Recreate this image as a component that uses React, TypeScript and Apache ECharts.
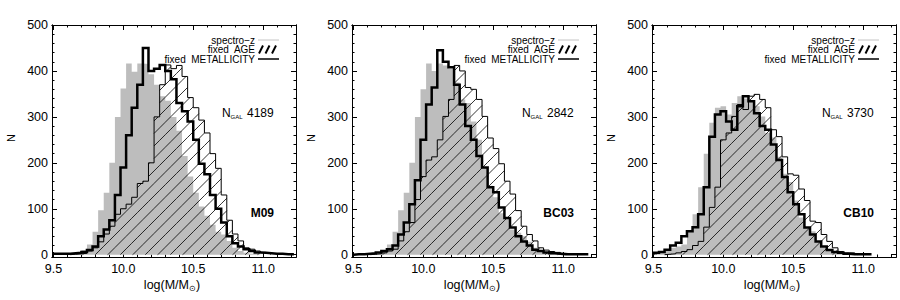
import React, { useEffect, useRef } from "react";
import * as echarts from "echarts";

// ---------- data ----------
const BIN_LEFT = [
  9.5, 9.54, 9.58, 9.62, 9.66, 9.7, 9.74, 9.78, 9.82, 9.86, 9.9, 9.94, 9.98,
  10.02, 10.06, 10.1, 10.14, 10.18, 10.22, 10.26, 10.3, 10.34, 10.38, 10.42,
  10.46, 10.5, 10.54, 10.58, 10.62, 10.66, 10.7, 10.74, 10.78, 10.82, 10.86,
  10.9, 10.94, 10.98, 11.02, 11.06, 11.1, 11.14, 11.18,
];
const BIN_WIDTH = 0.04;
const _ = null;

// M09
const m09Spectro = [_, _, _, _, 2, 10, 22, 50, 97, 135, 200, 300, 362, 416, 398, 416, 415, 393, 370, 345, 335, 300, 270, 215, 170, 135, 105, 85, 65, 50, 44, 30, 15, 8, 4, 2, 1, _, _, _, _, _, _];
const m09Age = [_, _, _, 1, 2, 3, 8, 15, 28, 45, 62, 88, 100, 110, 125, 155, 160, 200, 300, 370, 413, 405, 412, 388, 342, 320, 293, 265, 220, 188, 130, 75, 45, 30, 15, 12, 8, 5, 3, 2, 1, 1, _];
const m09Metal = [2, 2, 2, 3, 4, 6, 10, 18, 40, 55, 75, 130, 190, 260, 320, 370, 450, 400, 405, 413, 400, 382, 330, 312, 290, 250, 198, 175, 130, 100, 70, 40, 25, 18, 12, 8, 5, 4, 3, 2, 2, 1, 1];

// BC03
const bc03Spectro = [_, _, _, _, 2, 10, 22, 50, 97, 135, 200, 300, 360, 416, 400, 416, 412, 405, 375, 338, 330, 290, 250, 190, 150, 125, 90, 80, 55, 48, 40, 28, 15, 8, 4, 2, 1, _, _, _, _, _, _];
const bc03Age = [_, _, _, 1, 2, 4, 8, 12, 30, 50, 70, 120, 170, 206, 213, 250, 301, 338, 412, 400, 364, 360, 338, 301, 254, 231, 198, 160, 132, 96, 62, 44, 30, 15, 10, 7, 5, 3, 2, 1, 1, _, _];
const bc03Metal = [1, 1, 2, 3, 5, 8, 12, 20, 44, 70, 110, 162, 250, 327, 364, 445, 420, 408, 370, 327, 280, 250, 215, 190, 147, 136, 103, 80, 59, 40, 29, 20, 11, 8, 5, 3, 2, 1, 1, 1, 1, 1, _];

// CB10
const cb10Spectro = [2, 5, 10, 15, 18, 22, 51, 88, 147, 220, 287, 320, 323, 305, 330, 345, 340, 335, 323, 301, 265, 255, 213, 176, 158, 118, 81, 59, 51, 29, 15, 10, 6, 4, 2, 1, _, _, _, _, _, _, _];
const cb10Age = [_, _, 1, 2, 4, 7, 11, 20, 29, 60, 103, 147, 250, 265, 301, 327, 316, 345, 349, 338, 320, 272, 257, 213, 176, 173, 143, 118, 73, 70, 44, 29, 15, 7, 4, 4, 2, 1, _, _, _, _, _];
const cb10Metal = [4, 6, 11, 20, 26, 40, 51, 60, 88, 147, 257, 305, 312, 290, 272, 323, 345, 334, 308, 280, 272, 240, 206, 169, 136, 110, 88, 59, 44, 29, 18, 10, 6, 4, 2, 1, 1, 1, 1, _, _, _, _];

const PANEL_NAMES = ["M09", "BC03", "CB10"];
const N_GAL = ["4189", "2842", "3730"];
const SPECTRO = [m09Spectro, bc03Spectro, cb10Spectro];
const AGE = [m09Age, bc03Age, cb10Age];
const METAL = [m09Metal, bc03Metal, cb10Metal];

const X_TICKS = [9.5, 10.0, 10.5, 11.0];
const Y_TICKS = [0, 100, 200, 300, 400, 500];
const LEGEND_LABELS = ["spectro\u2212z", "fixed  AGE", "fixed  METALLICITY"];

// ---------- layout / style ----------
const X_MIN = 9.49;
const X_MAX = 11.235;
const Y_MIN = -5;
const Y_MAX = 500;
const FONT = '"Liberation Sans", Arial, Helvetica, sans-serif';
const GRAY = "#bdbdbd";
const HATCH = 12.5;

function minorList(lo: number, hi: number, step: number) {
  const out: number[] = [];
  for (let v = lo; v <= hi + 1e-9; v += step) out.push(Math.round(v * 1000) / 1000);
  return out;
}
const X_MINOR = minorList(9.5, 11.2, 0.1);
const Y_MINOR = minorList(0, 500, 20);

function stepPoints(vals: (number | null)[]) {
  let first = -1;
  let last = -1;
  vals.forEach((v, i) => {
    if (v != null) {
      if (first < 0) first = i;
      last = i;
    }
  });
  const pts: number[][] = [[BIN_LEFT[first], 0]];
  for (let i = first; i <= last; i++) pts.push([BIN_LEFT[i], (vals[i] as number) ?? 0]);
  const end = BIN_LEFT[last] + BIN_WIDTH;
  pts.push([end, vals[last] as number]);
  pts.push([end, 0]);
  return pts;
}

function hatchItems(vals: (number | null)[]) {
  const out: number[][] = [];
  vals.forEach((v, i) => {
    if (v != null && v > 0) out.push([BIN_LEFT[i], BIN_LEFT[i] + BIN_WIDTH, v]);
  });
  return out;
}

function measure(text: string, size: number) {
  const c = document.createElement("canvas").getContext("2d");
  if (!c) return text.length * size * 0.55;
  c.font = `${size}px ${FONT}`;
  return c.measureText(text).width;
}

export default function App() {
  const ref = useRef<HTMLDivElement>(null);

  useEffect(() => {
    if (!ref.current) return;
    const chart = echarts.init(ref.current, undefined, { renderer: "svg" });

    const grids: any[] = [];
    const xAxes: any[] = [];
    const yAxes: any[] = [];
    const series: any[] = [];
    const graphics: any[] = [];

    const tickStyle = { color: "#000", width: 1 };
    const lineAx = { show: true, onZero: false, lineStyle: { color: "#000", width: 1 } };

    for (let g = 0; g < 3; g++) {
      const ox = 300 * g;
      grids.push({ left: 52 + ox, top: 25, width: 244, height: 232, outerBoundsMode: "none" });

      const xb = (pos: string, ticks: number[], len: number, labels: boolean) => ({
        type: "value",
        gridIndex: g,
        min: X_MIN,
        max: X_MAX,
        position: pos,
        axisLine: lineAx,
        axisTick: { show: true, inside: true, length: len, customValues: ticks, lineStyle: tickStyle },
        axisLabel: labels
          ? {
              show: true,
              customValues: X_TICKS,
              formatter: (v: number) => v.toFixed(1),
              margin: 5,
              color: "#000",
              fontSize: 12.5,
              fontFamily: FONT,
            }
          : { show: false },
        splitLine: { show: false },
      });
      xAxes.push(xb("bottom", X_TICKS, 5, true));
      xAxes.push(xb("top", X_TICKS, 5, false));
      xAxes.push(xb("bottom", X_MINOR, 2.5, false));
      xAxes.push(xb("top", X_MINOR, 2.5, false));

      const yb = (pos: string, ticks: number[], len: number, labels: boolean) => ({
        type: "value",
        gridIndex: g,
        min: Y_MIN,
        max: Y_MAX,
        position: pos,
        axisLine: lineAx,
        axisTick: { show: true, inside: true, length: len, customValues: ticks, lineStyle: tickStyle },
        axisLabel: labels
          ? { show: true, customValues: Y_TICKS, margin: 4, color: "#000", fontSize: 12.5, fontFamily: FONT }
          : { show: false },
        splitLine: { show: false },
      });
      yAxes.push(yb("left", Y_TICKS, 5, true));
      yAxes.push(yb("right", Y_TICKS, 5, false));
      yAxes.push(yb("left", Y_MINOR, 2.5, false));
      yAxes.push(yb("right", Y_MINOR, 2.5, false));

      const xi = 4 * g;
      const yi = 4 * g;

      series.push({
        type: "line",
        name: "spectro-z",
        xAxisIndex: xi,
        yAxisIndex: yi,
        step: "end",
        data: stepPoints(SPECTRO[g]),
        symbol: "none",
        lineStyle: { width: 0, color: GRAY },
        areaStyle: { color: GRAY, opacity: 1 },
        z: 1,
        silent: true,
      });
      series.push({
        type: "custom",
        name: "fixed AGE hatch",
        xAxisIndex: xi,
        yAxisIndex: yi,
        data: hatchItems(AGE[g]),
        encode: { x: [0, 1], y: 2 },
        z: 2,
        silent: true,
        renderItem: (_p: any, api: any) => {
          const x0 = api.value(0);
          const x1 = api.value(1);
          const v = api.value(2);
          const pA = api.coord([x0, 0]);
          const pB = api.coord([x1, v]);
          const a = pA[0];
          const b = pB[0];
          const B = pA[1];
          const t = pB[1];
          const children: any[] = [];
          const n0 = Math.ceil((a + t) / HATCH);
          const n1 = Math.floor((b + B) / HATCH);
          for (let n = n0; n <= n1; n++) {
            const c = n * HATCH;
            const xs = Math.max(a, c - B);
            const xe = Math.min(b, c - t);
            if (xe > xs) {
              children.push({
                type: "line",
                shape: { x1: xs, y1: c - xs, x2: xe, y2: c - xe },
                style: { stroke: "#000", lineWidth: 0.8 },
              });
            }
          }
          return { type: "group", children };
        },
      });
      series.push({
        type: "line",
        name: "fixed AGE",
        xAxisIndex: xi,
        yAxisIndex: yi,
        step: "end",
        data: stepPoints(AGE[g]),
        symbol: "none",
        lineStyle: { width: 1, color: "#000" },
        z: 3,
        silent: true,
      });
      series.push({
        type: "line",
        name: "fixed METALLICITY",
        xAxisIndex: xi,
        yAxisIndex: yi,
        step: "end",
        data: stepPoints(METAL[g]),
        symbol: "none",
        lineStyle: { width: 2.5, color: "#000", join: "miter" },
        z: 4,
        silent: true,
      });

      // legend
      const legY = [40, 49.5, 59];
      LEGEND_LABELS.forEach((lab, i) => {
        graphics.push({
          type: "text",
          x: ox + 255,
          y: legY[i],
          silent: true,
          style: { text: lab, fontSize: 10, fontFamily: FONT, fill: "#000", align: "right", verticalAlign: "middle" },
        });
      });
      graphics.push({
        type: "line",
        silent: true,
        shape: { x1: ox + 258, y1: legY[0], x2: ox + 279, y2: legY[0] },
        style: { stroke: "#c4c4c4", lineWidth: 1 },
      });
      [259, 265.5, 272].forEach((sx) => {
        graphics.push({
          type: "line",
          silent: true,
          shape: { x1: ox + sx, y1: legY[1] + 4, x2: ox + sx + 4, y2: legY[1] - 4 },
          style: { stroke: "#000", lineWidth: 2 },
        });
      });
      graphics.push({
        type: "line",
        silent: true,
        shape: { x1: ox + 258, y1: legY[2], x2: ox + 279, y2: legY[2] },
        style: { stroke: "#000", lineWidth: 1.5 },
      });

      // N_GAL
      graphics.push({
        type: "text",
        x: ox + 222,
        y: 113,
        silent: true,
        style: { text: "N", fontSize: 12, fontFamily: FONT, fill: "#000", align: "left", verticalAlign: "middle" },
      });
      graphics.push({
        type: "text",
        x: ox + 230.5,
        y: 116.5,
        silent: true,
        style: { text: "GAL", fontSize: 6, fontFamily: FONT, fill: "#000", align: "left", verticalAlign: "middle" },
      });
      graphics.push({
        type: "text",
        x: ox + 247,
        y: 113,
        silent: true,
        style: { text: N_GAL[g], fontSize: 12, fontFamily: FONT, fill: "#000", align: "left", verticalAlign: "middle" },
      });

      // model name
      graphics.push({
        type: "text",
        x: ox + 274,
        y: 213,
        silent: true,
        style: {
          text: PANEL_NAMES[g],
          fontSize: 12,
          fontWeight: "bold",
          fontFamily: FONT,
          fill: "#000",
          align: "right",
          verticalAlign: "middle",
        },
      });

      // y title
      graphics.push({
        type: "text",
        x: ox + 11,
        y: 138,
        rotation: Math.PI / 2,
        silent: true,
        style: { text: "N", fontSize: 11, fontFamily: FONT, fill: "#000", align: "center", verticalAlign: "middle" },
      });

      // x title: log(M/M⊙)
      const t1 = "log(M/M";
      const t2 = "\u2299";
      const t3 = ")";
      const w1 = measure(t1, 12.5);
      const w2 = measure(t2, 8);
      const w3 = measure(t3, 12.5);
      const sx = ox + 172 - (w1 + w2 + w3) / 2;
      graphics.push({
        type: "text",
        x: sx,
        y: 285,
        silent: true,
        style: { text: t1, fontSize: 12.5, fontFamily: FONT, fill: "#000", align: "left", verticalAlign: "middle" },
      });
      graphics.push({
        type: "text",
        x: sx + w1,
        y: 288.5,
        silent: true,
        style: { text: t2, fontSize: 8, fontFamily: FONT, fill: "#000", align: "left", verticalAlign: "middle" },
      });
      graphics.push({
        type: "text",
        x: sx + w1 + w2,
        y: 285,
        silent: true,
        style: { text: t3, fontSize: 12.5, fontFamily: FONT, fill: "#000", align: "left", verticalAlign: "middle" },
      });
    }

    chart.setOption({
      animation: false,
      backgroundColor: "#ffffff",
      grid: grids,
      xAxis: xAxes,
      yAxis: yAxes,
      series,
      graphic: { elements: graphics },
    });

    return () => {
      chart.dispose();
    };
  }, []);

  return (
    <div
      ref={ref}
      style={{ position: "fixed", left: 0, top: 0, width: 900, height: 300, background: "#fff" }}
    />
  );
}
